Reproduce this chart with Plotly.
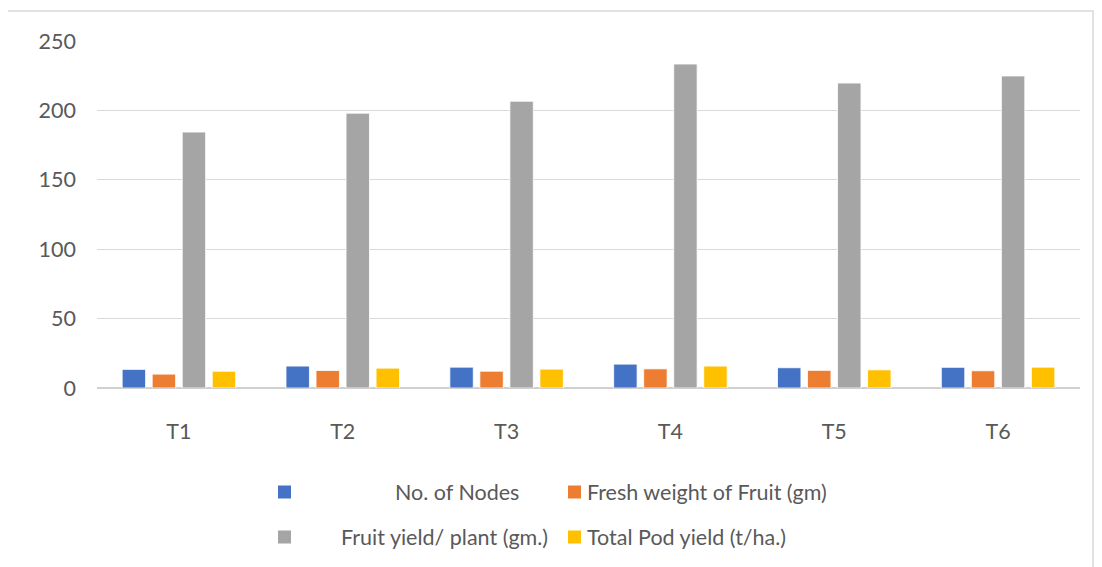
import plotly.graph_objects as go

categories = ["T1", "T2", "T3", "T4", "T5", "T6"]
nodes = [13.4, 15.8, 15.0, 17.2, 14.6, 14.9]
fresh_weight = [10.0, 12.6, 12.1, 13.8, 12.7, 12.4]
fruit_yield = [184.4, 198.0, 206.6, 233.4, 219.7, 224.8]
pod_yield = [12.1, 14.3, 13.6, 15.8, 13.1, 15.0]

series_names = ["No. of Nodes", "Fresh weight of Fruit (gm)",
                "Fruit yield/ plant (gm.)", "Total Pod yield (t/ha.)"]
colors = ["#4472C4", "#ED7D31", "#A5A5A5", "#FFC000"]
series = [nodes, fresh_weight, fruit_yield, pod_yield]

OFF = 8  # page body margin
W, H = 1102 - OFF, 567 - OFF
L, R, T, B = 97 - OFF, 1080 - OFF, 41 - OFF, 388 - OFF

fig = go.Figure()
for name, vals, col in zip(series_names, series, colors):
    fig.add_trace(go.Bar(x=categories, y=vals, name=name, marker_color=col,
                         marker_line=dict(color="white", width=0.8), showlegend=False))

font_family = "Lato"
txt_color = "#595959"
FS = 21.5

def px_x(p):
    return (p - OFF - L) / (R - L)

def px_y(p):
    return (B - (p - OFF)) / (B - T)

annotations = []
shapes = []
legend_items = [
    (series_names[0], colors[0], 278, 395, 492),
    (series_names[1], colors[1], 568, 587, 492),
    (series_names[2], colors[2], 278, 341, 537),
    (series_names[3], colors[3], 568, 587, 537),
]
for name, col, sq_x, tx, ty in legend_items:
    shapes.append(dict(type="rect", xref="paper", yref="paper",
                       x0=px_x(sq_x), x1=px_x(sq_x + 13),
                       y0=px_y(ty + 6.5), y1=px_y(ty - 6.5),
                       fillcolor=col, line=dict(width=0)))
    annotations.append(dict(text=name, xref="paper", yref="paper",
                            x=px_x(tx - 2), y=px_y(ty), xanchor="left", yanchor="middle",
                            showarrow=False,
                            font=dict(family=font_family, size=FS, color=txt_color)))

# outer chart border
shapes.append(dict(type="rect", xref="paper", yref="paper",
                   x0=px_x(7), x1=px_x(1093), y0=px_y(570), y1=px_y(11),
                   line=dict(color="#d9d9d9", width=1.5), fillcolor="rgba(0,0,0,0)", layer="below"))

fig.update_layout(
    width=W, height=H,
    margin=dict(l=L, r=W - R, t=T, b=H - B),
    paper_bgcolor="white", plot_bgcolor="white",
    barmode="group", bargap=0.267, bargroupgap=0.22,
    font=dict(family=font_family, size=FS, color=txt_color),
    xaxis=dict(showgrid=False, showline=False, ticks="", ticklabelstandoff=28,
               tickfont=dict(size=FS, color=txt_color)),
    yaxis=dict(range=[0, 250], dtick=50, showgrid=True, gridcolor="#d9d9d9", gridwidth=1.3,
               zeroline=True, zerolinecolor="#d0d0d0", zerolinewidth=1.5,
               showline=False, ticks="", ticklabelstandoff=20,
               tickfont=dict(size=FS, color=txt_color)),
    annotations=annotations, shapes=shapes,
)

fig.write_html("out.html")
